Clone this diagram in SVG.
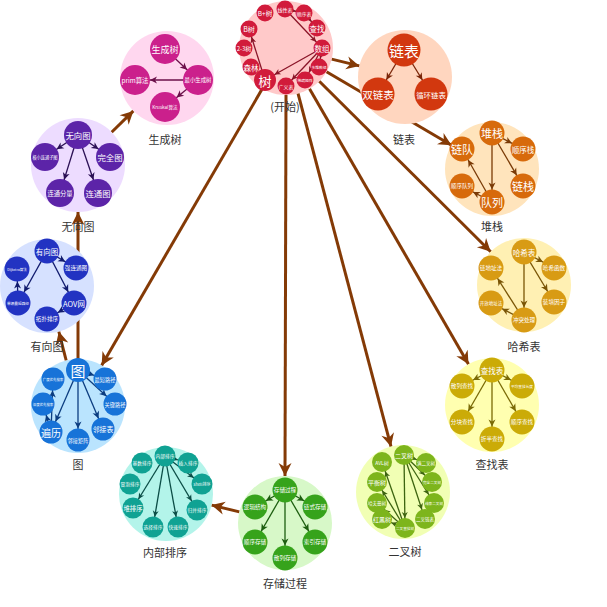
<svg xmlns="http://www.w3.org/2000/svg" width="607" height="607" viewBox="0 0 607 607">
<style>
text.t{fill:#fff;font-family:"Noto Sans CJK SC","Noto Sans",sans-serif;text-anchor:middle;dominant-baseline:central}
text.lbl{fill:#333;font-size:11px;font-family:"Noto Sans CJK SC","Noto Sans",sans-serif;text-anchor:middle}
.big{stroke:#843a06;stroke-width:3;fill:none;marker-end:url(#mBig)}
.e{stroke-width:1.3;fill:none}
.eA{stroke:#8a1528;marker-end:url(#mA)}.eB{stroke:#7a2508;marker-end:url(#mB)}.eC{stroke:#7a3a06;marker-end:url(#mC)}
.eD{stroke:#7a5506;marker-end:url(#mD)}.eE{stroke:#7a6a06;marker-end:url(#mE)}.eF{stroke:#3d6410;marker-end:url(#mF)}
.eG{stroke:#1d5e10;marker-end:url(#mG)}.eH{stroke:#0b4d46;marker-end:url(#mH)}.eI{stroke:#0c3d80;marker-end:url(#mI)}
.eJ{stroke:#111b6e;marker-end:url(#mJ)}.eK{stroke:#2b1055;marker-end:url(#mK)}.eL{stroke:#6b0f4a;marker-end:url(#mL)}
.nA circle{fill:#d11b3b}.nB circle{fill:#d2380f}.nC circle{fill:#d76a0b}.nD circle{fill:#d89b14}
.nE circle{fill:#cbab07}.nF circle{fill:#7db51c}.nG circle{fill:#36a31b}.nH circle{fill:#10a293}
.nI circle{fill:#1773d8}.nJ circle{fill:#2233c2}.nK circle{fill:#5c24a8}.nL circle{fill:#cb208c}
</style>
<defs>
<marker id="mBig" markerUnits="userSpaceOnUse" markerWidth="14" markerHeight="14" refX="0" refY="0" orient="auto" overflow="visible"><path d="M0,0 L-13,-6.5 L-9,0 L-13,6.5 Z" fill="#843a06"/></marker>
<marker id="mA" markerUnits="userSpaceOnUse" markerWidth="8" markerHeight="8" refX="8.5" refY="0" orient="auto" overflow="visible"><path d="M0,0 L-6,-3 L-4.3,0 L-6,3 Z" fill="#8a1528"/></marker>
<marker id="mA2" markerUnits="userSpaceOnUse" markerWidth="8" markerHeight="8" refX="11" refY="0" orient="auto" overflow="visible"><path d="M0,0 L-6,-3 L-4.3,0 L-6,3 Z" fill="#8a1528"/></marker>
<marker id="mB" markerUnits="userSpaceOnUse" markerWidth="8" markerHeight="8" refX="16.5" refY="0" orient="auto" overflow="visible"><path d="M0,0 L-7,-3.5 L-5,0 L-7,3.5 Z" fill="#7a2508"/></marker>
<marker id="mC" markerUnits="userSpaceOnUse" markerWidth="8" markerHeight="8" refX="12.5" refY="0" orient="auto" overflow="visible"><path d="M0,0 L-7,-3.5 L-5,0 L-7,3.5 Z" fill="#7a3a06"/></marker>
<marker id="mD" markerUnits="userSpaceOnUse" markerWidth="8" markerHeight="8" refX="12.5" refY="0" orient="auto" overflow="visible"><path d="M0,0 L-7,-3.5 L-5,0 L-7,3.5 Z" fill="#7a5506"/></marker>
<marker id="mE" markerUnits="userSpaceOnUse" markerWidth="8" markerHeight="8" refX="12.5" refY="0" orient="auto" overflow="visible"><path d="M0,0 L-7,-3.5 L-5,0 L-7,3.5 Z" fill="#7a6a06"/></marker>
<marker id="mF" markerUnits="userSpaceOnUse" markerWidth="8" markerHeight="8" refX="10" refY="0" orient="auto" overflow="visible"><path d="M0,0 L-6,-3 L-4.3,0 L-6,3 Z" fill="#3d6410"/></marker>
<marker id="mG" markerUnits="userSpaceOnUse" markerWidth="8" markerHeight="8" refX="12.5" refY="0" orient="auto" overflow="visible"><path d="M0,0 L-7,-3.5 L-5,0 L-7,3.5 Z" fill="#1d5e10"/></marker>
<marker id="mH" markerUnits="userSpaceOnUse" markerWidth="8" markerHeight="8" refX="10.5" refY="0" orient="auto" overflow="visible"><path d="M0,0 L-6,-3 L-4.3,0 L-6,3 Z" fill="#0b4d46"/></marker>
<marker id="mI" markerUnits="userSpaceOnUse" markerWidth="8" markerHeight="8" refX="11.5" refY="0" orient="auto" overflow="visible"><path d="M0,0 L-7,-3.5 L-5,0 L-7,3.5 Z" fill="#0c3d80"/></marker>
<marker id="mJ" markerUnits="userSpaceOnUse" markerWidth="8" markerHeight="8" refX="12.5" refY="0" orient="auto" overflow="visible"><path d="M0,0 L-7,-3.5 L-5,0 L-7,3.5 Z" fill="#111b6e"/></marker>
<marker id="mK" markerUnits="userSpaceOnUse" markerWidth="8" markerHeight="8" refX="14" refY="0" orient="auto" overflow="visible"><path d="M0,0 L-7,-3.5 L-5,0 L-7,3.5 Z" fill="#2b1055"/></marker>
<marker id="mL" markerUnits="userSpaceOnUse" markerWidth="8" markerHeight="8" refX="15" refY="0" orient="auto" overflow="visible"><path d="M0,0 L-7,-3.5 L-5,0 L-7,3.5 Z" fill="#6b0f4a"/></marker>
</defs>

<g id="connectors-main">
<line class="big" x1="331.6" y1="59.1" x2="359.4" y2="65.9"/>
<line class="big" x1="326.5" y1="71.8" x2="451.5" y2="145.2"/>
<line class="big" x1="319.3" y1="81.2" x2="490.7" y2="251.8"/>
<line class="big" x1="309.5" y1="88.7" x2="468.5" y2="364.3"/>
<line class="big" x1="298" y1="93.4" x2="391" y2="446.6"/>
<line class="big" x1="286" y1="95" x2="285" y2="476"/>
<line class="big" x1="262.4" y1="88.6" x2="101.6" y2="365.4"/>
<line class="big" x1="66.2" y1="360.5" x2="58.8" y2="331.5"/>
<line class="big" x1="78" y1="359" x2="78" y2="212"/>
<line class="big" x1="111.6" y1="132.2" x2="133.4" y2="110.9"/>
<line class="big" x1="239.4" y1="511.9" x2="211.6" y2="505.1"/>
</g>

<g id="clusters">
<g id="cluster-tree"><circle cx="286" cy="48" r="47" fill="#ffc9c9"/><text class="lbl" x="285" y="111">(开始)</text></g>
<g id="cluster-linkedlist"><circle cx="405" cy="77" r="47" fill="#ffd6bf"/><text class="lbl" x="404" y="144">链表</text></g>
<g id="cluster-stack"><circle cx="492" cy="169" r="47" fill="#ffe4bc"/><text class="lbl" x="492" y="231">堆栈</text></g>
<g id="cluster-hash"><circle cx="524" cy="285" r="47" fill="#fff0b3"/><text class="lbl" x="524" y="351">哈希表</text></g>
<g id="cluster-search"><circle cx="492" cy="405" r="47" fill="#ffffb0"/><text class="lbl" x="492" y="469">查找表</text></g>
<g id="cluster-bintree"><circle cx="403" cy="492" r="47" fill="#f1ffb4"/><text class="lbl" x="405" y="556">二叉树</text></g>
<g id="cluster-storage"><circle cx="285" cy="523" r="47" fill="#d7f8c8"/><text class="lbl" x="285" y="588">存储过程</text></g>
<g id="cluster-sort"><circle cx="166" cy="494" r="47" fill="#b3f4ea"/><text class="lbl" x="165" y="557">内部排序</text></g>
<g id="cluster-graph"><circle cx="78" cy="406" r="47" fill="#bae4fe"/><text class="lbl" x="78" y="469">图</text></g>
<g id="cluster-digraph"><circle cx="47" cy="286" r="47" fill="#d6e1ff"/><text class="lbl" x="47" y="351">有向图</text></g>
<g id="cluster-undigraph"><circle cx="78" cy="165" r="47" fill="#eddcff"/><text class="lbl" x="78" y="231">无向图</text></g>
<g id="cluster-spantree"><circle cx="167" cy="78" r="47" fill="#ffd7ef"/><text class="lbl" x="165" y="144">生成树</text></g>
</g>

<g id="connectors-inner">
<line class="e eA" x1="285" y1="9" x2="304" y2="13"/>
<line class="e eA" x1="304" y1="13" x2="317" y2="28"/>
<line class="e eA" x1="285" y1="9" x2="322" y2="48"/>
<line class="e eA" x1="322" y1="48" x2="319" y2="67"/>
<line class="e eA" x1="322" y1="48" x2="305" y2="80"/>
<line class="e eA" x1="322" y1="48" x2="286" y2="86"/>
<line class="e eA" x1="322" y1="48" x2="265" y2="80" style="marker-end:url(#mA2)"/>
<line class="e eA" x1="265" y1="80" x2="249" y2="29"/>
<line class="e eB" x1="404" y1="50" x2="378" y2="94"/>
<line class="e eB" x1="404" y1="50" x2="431" y2="94"/>
<line class="e eC" x1="492" y1="133" x2="523" y2="149"/>
<line class="e eC" x1="492" y1="133" x2="523" y2="186"/>
<line class="e eC" x1="492" y1="133" x2="492" y2="202"/>
<line class="e eC" x1="492" y1="202" x2="462" y2="186"/>
<line class="e eC" x1="492" y1="202" x2="462" y2="149"/>
<line class="e eD" x1="524" y1="252" x2="554" y2="268"/>
<line class="e eD" x1="524" y1="252" x2="554" y2="302"/>
<line class="e eD" x1="524" y1="252" x2="524" y2="320"/>
<line class="e eD" x1="524" y1="320" x2="491" y2="303"/>
<line class="e eD" x1="524" y1="320" x2="491" y2="268"/>
<line class="e eE" x1="492" y1="370" x2="522" y2="386"/>
<line class="e eE" x1="492" y1="370" x2="522" y2="422"/>
<line class="e eE" x1="492" y1="370" x2="492" y2="439"/>
<line class="e eE" x1="492" y1="370" x2="462" y2="422"/>
<line class="e eE" x1="492" y1="370" x2="462" y2="386"/>
<line class="e eF" x1="404" y1="455" x2="426" y2="463"/>
<line class="e eF" x1="404" y1="455" x2="432" y2="482"/>
<line class="e eF" x1="404" y1="455" x2="434" y2="503"/>
<line class="e eF" x1="404" y1="455" x2="425" y2="519"/>
<line class="e eF" x1="404" y1="455" x2="405" y2="528"/>
<line class="e eF" x1="405" y1="528" x2="382" y2="519"/>
<line class="e eF" x1="405" y1="528" x2="377" y2="503"/>
<line class="e eF" x1="405" y1="528" x2="377" y2="482"/>
<line class="e eF" x1="405" y1="528" x2="382" y2="462"/>
<line class="e eG" x1="285" y1="490" x2="315" y2="507"/>
<line class="e eG" x1="285" y1="490" x2="315" y2="542"/>
<line class="e eG" x1="285" y1="490" x2="285" y2="558"/>
<line class="e eG" x1="285" y1="490" x2="255" y2="542"/>
<line class="e eG" x1="285" y1="490" x2="255" y2="507"/>
<line class="e eH" x1="165" y1="456" x2="188" y2="463"/>
<line class="e eH" x1="165" y1="456" x2="202" y2="484"/>
<line class="e eH" x1="165" y1="456" x2="197" y2="510"/>
<line class="e eH" x1="165" y1="456" x2="178" y2="527"/>
<line class="e eH" x1="165" y1="456" x2="153" y2="527"/>
<line class="e eH" x1="165" y1="456" x2="133" y2="508"/>
<line class="e eI" x1="78" y1="370" x2="105" y2="379"/>
<line class="e eI" x1="78" y1="370" x2="115" y2="404"/>
<line class="e eI" x1="78" y1="370" x2="103" y2="429"/>
<line class="e eI" x1="78" y1="370" x2="78" y2="440"/>
<line class="e eI" x1="78" y1="370" x2="51" y2="432"/>
<line class="e eI" x1="51" y1="432" x2="43" y2="404"/>
<line class="e eI" x1="51" y1="432" x2="53" y2="379"/>
<line class="e eJ" x1="47" y1="251" x2="76" y2="268"/>
<line class="e eJ" x1="47" y1="251" x2="74" y2="303"/>
<line class="e eJ" x1="47" y1="251" x2="18" y2="303"/>
<line class="e eJ" x1="74" y1="303" x2="47" y2="319"/>
<line class="e eJ" x1="18" y1="303" x2="17" y2="269"/>
<line class="e eK" x1="78" y1="135" x2="45" y2="157"/>
<line class="e eK" x1="78" y1="135" x2="110" y2="157"/>
<line class="e eK" x1="78" y1="135" x2="98" y2="193"/>
<line class="e eK" x1="78" y1="135" x2="60" y2="193"/>
<line class="e eL" x1="165" y1="49" x2="198" y2="80"/>
<line class="e eL" x1="198" y1="80" x2="135" y2="80"/>
<line class="e eL" x1="198" y1="80" x2="165" y2="107"/>
</g>

<g id="nodes-tree" class="nA">
<g id="n-a1"><circle cx="285" cy="9" r="8.5"/><text class="t" x="285" y="9" font-size="5">线性表</text></g>
<g id="n-a2"><circle cx="304" cy="13" r="8.5"/><text class="t" x="304" y="13" font-size="5">顺序表</text></g>
<g id="n-a3"><circle cx="317" cy="28" r="8.5"/><text class="t" x="317" y="28" font-size="7.5">查找</text></g>
<g id="n-a4"><circle cx="322" cy="48" r="8.5"/><text class="t" x="322" y="48" font-size="7.5">数组</text></g>
<g id="n-a5"><circle cx="319" cy="67" r="8.5"/><text class="t" x="319" y="67" font-size="3.8">多维数组</text></g>
<g id="n-a6"><circle cx="305" cy="80" r="8.5"/><text class="t" x="305" y="80" font-size="3.8">稀疏矩阵</text></g>
<g id="n-a7"><circle cx="286" cy="86" r="8.5"/><text class="t" x="286" y="86" font-size="5">广义表</text></g>
<g id="n-a8"><circle cx="265" cy="80" r="11"/><text class="t" x="265" y="80" font-size="13">树</text></g>
<g id="n-a9"><circle cx="251" cy="67" r="8.5"/><text class="t" x="251" y="67" font-size="7.5">森林</text></g>
<g id="n-a10"><circle cx="244" cy="48" r="8.5"/><text class="t" x="244" y="48" font-size="6">2-3树</text></g>
<g id="n-a11"><circle cx="249" cy="29" r="8.5"/><text class="t" x="249" y="29" font-size="7">B树</text></g>
<g id="n-a12"><circle cx="265" cy="13" r="8.5"/><text class="t" x="265" y="13" font-size="6.5">B+树</text></g>
</g>

<g id="nodes-linkedlist" class="nB">
<g id="n-b1"><circle cx="404" cy="50" r="16.5"/><text class="t" x="404" y="50" font-size="15">链表</text></g>
<g id="n-b2"><circle cx="378" cy="94" r="16.5"/><text class="t" x="378" y="94" font-size="10.5">双链表</text></g>
<g id="n-b3"><circle cx="431" cy="94" r="16.5"/><text class="t" x="431" y="94" font-size="7.4">循环链表</text></g>
</g>

<g id="nodes-stack" class="nC">
<g id="n-c1"><circle cx="492" cy="133" r="12.5"/><text class="t" x="492" y="133" font-size="11">堆栈</text></g>
<g id="n-c2"><circle cx="523" cy="149" r="12.5"/><text class="t" x="523" y="149" font-size="7.5">顺序栈</text></g>
<g id="n-c3"><circle cx="523" cy="186" r="12.5"/><text class="t" x="523" y="186" font-size="11">链栈</text></g>
<g id="n-c4"><circle cx="492" cy="202" r="12.5"/><text class="t" x="492" y="202" font-size="11">队列</text></g>
<g id="n-c5"><circle cx="462" cy="186" r="12.5"/><text class="t" x="462" y="186" font-size="5.6">顺序队列</text></g>
<g id="n-c6"><circle cx="462" cy="149" r="12.5"/><text class="t" x="462" y="149" font-size="11">链队</text></g>
</g>

<g id="nodes-hash" class="nD">
<g id="n-d1"><circle cx="524" cy="252" r="12.5"/><text class="t" x="524" y="252" font-size="7.5">哈希表</text></g>
<g id="n-d2"><circle cx="554" cy="268" r="12.5"/><text class="t" x="554" y="268" font-size="5.6">哈希函数</text></g>
<g id="n-d3"><circle cx="554" cy="302" r="12.5"/><text class="t" x="554" y="302" font-size="5.6">装填因子</text></g>
<g id="n-d4"><circle cx="524" cy="320" r="12.5"/><text class="t" x="524" y="320" font-size="5.6">冲突处理</text></g>
<g id="n-d5"><circle cx="491" cy="303" r="12.5"/><text class="t" x="491" y="303" font-size="4.5">开放地址法</text></g>
<g id="n-d6"><circle cx="491" cy="268" r="12.5"/><text class="t" x="491" y="268" font-size="5.6">链地址法</text></g>
</g>

<g id="nodes-search" class="nE">
<g id="n-e1"><circle cx="492" cy="370" r="12.5"/><text class="t" x="492" y="370" font-size="7.5">查找表</text></g>
<g id="n-e2"><circle cx="522" cy="386" r="12.5"/><text class="t" x="522" y="386" font-size="3.7">平均查找长度</text></g>
<g id="n-e3"><circle cx="522" cy="422" r="12.5"/><text class="t" x="522" y="422" font-size="5.6">顺序查找</text></g>
<g id="n-e4"><circle cx="492" cy="439" r="12.5"/><text class="t" x="492" y="439" font-size="5.6">折半查找</text></g>
<g id="n-e5"><circle cx="462" cy="422" r="12.5"/><text class="t" x="462" y="422" font-size="5.6">分块查找</text></g>
<g id="n-e6"><circle cx="462" cy="386" r="12.5"/><text class="t" x="462" y="386" font-size="5.6">散列查找</text></g>
</g>

<g id="nodes-bintree" class="nF">
<g id="n-f1"><circle cx="404" cy="455" r="10"/><text class="t" x="404" y="455" font-size="6">二叉树</text></g>
<g id="n-f2"><circle cx="426" cy="463" r="10"/><text class="t" x="426" y="463" font-size="4.5">满二叉树</text></g>
<g id="n-f3"><circle cx="432" cy="482" r="10"/><text class="t" x="432" y="482" font-size="3.6">完全二叉树</text></g>
<g id="n-f4"><circle cx="434" cy="503" r="10"/><text class="t" x="434" y="503" font-size="3.6">线索二叉树</text></g>
<g id="n-f5"><circle cx="425" cy="519" r="10"/><text class="t" x="425" y="519" font-size="4.5">二叉链表</text></g>
<g id="n-f6"><circle cx="405" cy="528" r="10"/><text class="t" x="405" y="528" font-size="3.6">二叉查找树</text></g>
<g id="n-f7"><circle cx="382" cy="519" r="10"/><text class="t" x="382" y="519" font-size="6">红黑树</text></g>
<g id="n-f8"><circle cx="377" cy="503" r="10"/><text class="t" x="377" y="503" font-size="4.5">哈夫曼树</text></g>
<g id="n-f9"><circle cx="377" cy="482" r="10"/><text class="t" x="377" y="482" font-size="6">平衡树</text></g>
<g id="n-f10"><circle cx="382" cy="462" r="10"/><text class="t" x="382" y="462" font-size="5">AVL树</text></g>
</g>

<g id="nodes-storage" class="nG">
<g id="n-g1"><circle cx="285" cy="490" r="12.5"/><text class="t" x="285" y="490" font-size="5.6">存储过程</text></g>
<g id="n-g2"><circle cx="315" cy="507" r="12.5"/><text class="t" x="315" y="507" font-size="5.6">链式存储</text></g>
<g id="n-g3"><circle cx="315" cy="542" r="12.5"/><text class="t" x="315" y="542" font-size="5.6">索引存储</text></g>
<g id="n-g4"><circle cx="285" cy="558" r="12.5"/><text class="t" x="285" y="558" font-size="5.6">散列存储</text></g>
<g id="n-g5"><circle cx="255" cy="542" r="12.5"/><text class="t" x="255" y="542" font-size="5.6">顺序存储</text></g>
<g id="n-g6"><circle cx="255" cy="507" r="12.5"/><text class="t" x="255" y="507" font-size="5.6">逻辑结构</text></g>
</g>

<g id="nodes-sort" class="nH">
<g id="n-h1"><circle cx="165" cy="456" r="10.5"/><text class="t" x="165" y="456" font-size="4.7">内部排序</text></g>
<g id="n-h2"><circle cx="188" cy="463" r="10.5"/><text class="t" x="188" y="463" font-size="4.7">插入排序</text></g>
<g id="n-h3"><circle cx="202" cy="484" r="10.5"/><text class="t" x="202" y="484" font-size="4">shell排序</text></g>
<g id="n-h4"><circle cx="197" cy="510" r="10.5"/><text class="t" x="197" y="510" font-size="4.7">归并排序</text></g>
<g id="n-h5"><circle cx="178" cy="527" r="10.5"/><text class="t" x="178" y="527" font-size="4.7">快速排序</text></g>
<g id="n-h6"><circle cx="153" cy="527" r="10.5"/><text class="t" x="153" y="527" font-size="4.7">选择排序</text></g>
<g id="n-h7"><circle cx="133" cy="508" r="10.5"/><text class="t" x="133" y="508" font-size="6.3">堆排序</text></g>
<g id="n-h8"><circle cx="130" cy="484" r="10.5"/><text class="t" x="130" y="484" font-size="4.7">冒泡排序</text></g>
<g id="n-h9"><circle cx="142" cy="463" r="10.5"/><text class="t" x="142" y="463" font-size="4.7">基数排序</text></g>
</g>

<g id="nodes-graph" class="nI">
<g id="n-i1"><circle cx="78" cy="370" r="12"/><text class="t" x="78" y="370" font-size="15">图</text></g>
<g id="n-i2"><circle cx="105" cy="379" r="11.5"/><text class="t" x="105" y="379" font-size="5.2">最短路径</text></g>
<g id="n-i3"><circle cx="115" cy="404" r="11.5"/><text class="t" x="115" y="404" font-size="5.2">关键路径</text></g>
<g id="n-i4"><circle cx="103" cy="429" r="11.5"/><text class="t" x="103" y="429" font-size="6.9">邻接表</text></g>
<g id="n-i5"><circle cx="78" cy="440" r="11.5"/><text class="t" x="78" y="440" font-size="5.2">邻接矩阵</text></g>
<g id="n-i6"><circle cx="51" cy="432" r="11.5"/><text class="t" x="51" y="432" font-size="10">遍历</text></g>
<g id="n-i7"><circle cx="43" cy="404" r="11.5"/><text class="t" x="43" y="404" font-size="3.4">深度优先搜索</text></g>
<g id="n-i8"><circle cx="53" cy="379" r="11.5"/><text class="t" x="53" y="379" font-size="3.4">广度优先搜索</text></g>
</g>

<g id="nodes-digraph" class="nJ">
<g id="n-j1"><circle cx="47" cy="251" r="12.5"/><text class="t" x="47" y="251" font-size="7.5">有向图</text></g>
<g id="n-j2"><circle cx="76" cy="268" r="12.5"/><text class="t" x="76" y="268" font-size="5.6">强连通图</text></g>
<g id="n-j3"><circle cx="74" cy="303" r="12.5"/><text class="t" x="74" y="303" font-size="7.5">AOV网</text></g>
<g id="n-j4"><circle cx="47" cy="319" r="12.5"/><text class="t" x="47" y="319" font-size="5.6">拓扑排序</text></g>
<g id="n-j5"><circle cx="18" cy="303" r="12.5"/><text class="t" x="18" y="303" font-size="3.7">单源最短路径</text></g>
<g id="n-j6"><circle cx="17" cy="269" r="12.5"/><text class="t" x="17" y="269" font-size="3.5">Dijkstra算法</text></g>
</g>

<g id="nodes-undigraph" class="nK">
<g id="n-k1"><circle cx="78" cy="135" r="14"/><text class="t" x="78" y="135" font-size="8.4">无向图</text></g>
<g id="n-k2"><circle cx="45" cy="157" r="14"/><text class="t" x="45" y="157" font-size="4.2">极小连通子图</text></g>
<g id="n-k3"><circle cx="110" cy="157" r="14"/><text class="t" x="110" y="157" font-size="8.4">完全图</text></g>
<g id="n-k4"><circle cx="98" cy="193" r="14"/><text class="t" x="98" y="193" font-size="8.4">连通图</text></g>
<g id="n-k5"><circle cx="60" cy="193" r="14"/><text class="t" x="60" y="193" font-size="6.3">连通分量</text></g>
</g>

<g id="nodes-spantree" class="nL">
<g id="n-l1"><circle cx="165" cy="49" r="15"/><text class="t" x="165" y="49" font-size="9">生成树</text></g>
<g id="n-l2"><circle cx="198" cy="80" r="15"/><text class="t" x="198" y="80" font-size="5.4">最小生成树</text></g>
<g id="n-l3"><circle cx="135" cy="80" r="15"/><text class="t" x="135" y="80" font-size="6.4">prim算法</text></g>
<g id="n-l4"><circle cx="165" cy="107" r="15"/><text class="t" x="165" y="107" font-size="4.6">Kruskal算法</text></g>
</g>
</svg>
